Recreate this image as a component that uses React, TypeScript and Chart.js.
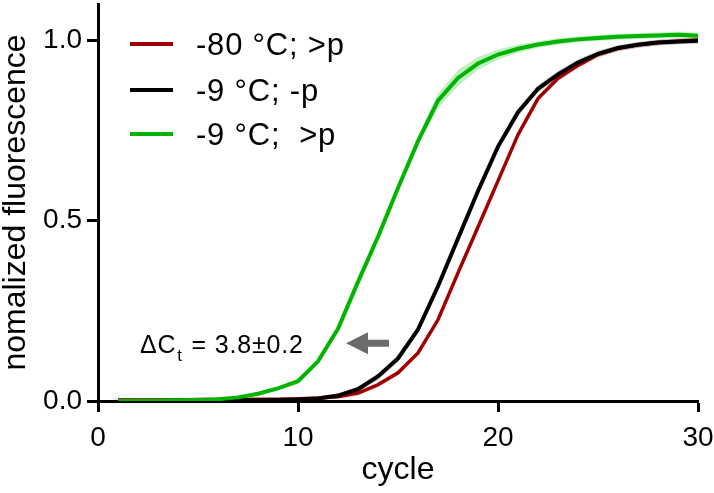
import React, { useEffect, useRef } from "react";
import { Chart, registerables } from "chart.js";

Chart.register(...registerables);

// ---- data ----
const cycles = [1, 2, 3, 4, 5, 6, 7, 8, 9, 10, 11, 12, 13, 14, 15, 16, 17, 18, 19, 20, 21, 22, 23, 24, 25, 26, 27, 28, 29, 30];

const greenMean = [0.000, 0.001, 0.001, 0.002, 0.003, 0.005, 0.010, 0.020, 0.035, 0.055, 0.110, 0.200, 0.330, 0.455, 0.590, 0.720, 0.832, 0.895, 0.935, 0.960, 0.976, 0.988, 0.996, 1.002, 1.006, 1.009, 1.011, 1.013, 1.015, 1.012];
const greenSd = [0.002, 0.002, 0.002, 0.002, 0.002, 0.002, 0.002, 0.002, 0.002, 0.003, 0.003, 0.003, 0.004, 0.004, 0.006, 0.012, 0.020, 0.022, 0.018, 0.014, 0.011, 0.009, 0.009, 0.008, 0.008, 0.008, 0.008, 0.008, 0.008, 0.008];

const blackMean = [0.001, 0.001, 0.001, 0.001, 0.002, 0.002, 0.002, 0.002, 0.003, 0.004, 0.007, 0.015, 0.033, 0.068, 0.118, 0.198, 0.318, 0.450, 0.582, 0.705, 0.800, 0.865, 0.905, 0.938, 0.962, 0.978, 0.987, 0.993, 0.996, 0.998];
const blackSd = [0.002, 0.002, 0.002, 0.002, 0.002, 0.002, 0.002, 0.002, 0.002, 0.003, 0.004, 0.006, 0.008, 0.009, 0.010, 0.010, 0.010, 0.010, 0.010, 0.010, 0.010, 0.010, 0.010, 0.009, 0.009, 0.008, 0.008, 0.008, 0.008, 0.008];

const redMean = [0.003, 0.003, 0.003, 0.003, 0.004, 0.004, 0.004, 0.005, 0.005, 0.006, 0.008, 0.012, 0.022, 0.045, 0.078, 0.133, 0.225, 0.355, 0.482, 0.610, 0.738, 0.838, 0.894, 0.930, 0.960, 0.977, 0.987, 0.993, 0.997, 1.000];
const redSd = [0.003, 0.003, 0.003, 0.003, 0.003, 0.003, 0.003, 0.003, 0.003, 0.004, 0.005, 0.006, 0.007, 0.007, 0.007, 0.007, 0.007, 0.007, 0.007, 0.007, 0.007, 0.007, 0.008, 0.008, 0.008, 0.008, 0.008, 0.008, 0.008, 0.008];

const legendLabels = ["-80 °C; >p", "-9 °C; -p", "-9 °C;  >p"];
const xTickValues = [0, 10, 20, 30];
const yTickValues = [0, 0.5, 1.0];
const annotationMain = "ΔC";
const annotationSub = "t";
const annotationRest = " = 3.8±0.2";

// ---- styles ----
const RED = "#a00000";
const BLACK = "#000000";
const GREEN = "#00b400";
const FONT = '"Liberation Sans", Arial, Helvetica, sans-serif';

const pts = (arr: number[]) => cycles.map((c, i) => ({ x: c, y: arr[i] }));
const ptsOff = (arr: number[], sd: number[], sign: number) =>
  cycles.map((c, i) => ({ x: c, y: arr[i] + sign * sd[i] }));

const overlayPlugin = {
  id: "overlay",
  afterDraw(chart: any) {
    const ctx = chart.ctx as CanvasRenderingContext2D;
    const area = chart.chartArea;
    const xs = chart.scales.x;
    const ys = chart.scales.y;
    ctx.save();
    // legend
    const colors = [RED, BLACK, GREEN];
    const rowY = [44, 90, 134];
    legendLabels.forEach((lab, i) => {
      const ly = rowY[i];
      ctx.strokeStyle = colors[i];
      ctx.lineWidth = 4;
      ctx.beginPath();
      ctx.moveTo(area.left + 32, ly);
      ctx.lineTo(area.left + 75, ly);
      ctx.stroke();
      ctx.fillStyle = "#000";
      ctx.font = `31px ${FONT}`;
      (ctx as any).letterSpacing = "0.8px";
      ctx.textBaseline = "middle";
      ctx.textAlign = "left";
      ctx.fillText(lab, area.left + 98, ly + 2);
      (ctx as any).letterSpacing = "0px";
    });

    // annotation text
    const tx = xs.getPixelForValue(2.1);
    const baseY = ys.getPixelForValue(0.132);
    ctx.fillStyle = "#000";
    ctx.textBaseline = "alphabetic";
    ctx.textAlign = "left";
    ctx.font = `25px ${FONT}`;
    (ctx as any).letterSpacing = "0.8px";
    ctx.fillText(annotationMain, tx, baseY);
    const w = ctx.measureText(annotationMain).width;
    ctx.font = `17px ${FONT}`;
    ctx.fillText(annotationSub, tx + w + 1, baseY + 8);
    const w2 = ctx.measureText(annotationSub).width;
    ctx.font = `25px ${FONT}`;
    ctx.fillText(annotationRest, tx + w + w2 + 2, baseY);
    (ctx as any).letterSpacing = "0px";

    // arrow
    const tipX = xs.getPixelForValue(12.4);
    const headX = xs.getPixelForValue(13.5);
    const tailX = xs.getPixelForValue(14.55);
    const ay = ys.getPixelForValue(0.16);
    ctx.fillStyle = "#6b6b6b";
    ctx.beginPath();
    ctx.moveTo(tipX, ay);
    ctx.lineTo(headX, ay - 11);
    ctx.lineTo(headX, ay + 11);
    ctx.closePath();
    ctx.fill();
    ctx.fillRect(headX - 1, ay - 3.5, tailX - headX + 1, 7);
    ctx.restore();
  },
};

export default function App() {
  const ref = useRef<HTMLCanvasElement | null>(null);

  useEffect(() => {
    if (!ref.current) return;
    const bandCfg = (data: any, color: string, fill: any) => ({
      data,
      borderWidth: 0,
      borderColor: "rgba(0,0,0,0)",
      backgroundColor: color,
      pointRadius: 0,
      fill,
      tension: 0,
    });
    const chart = new Chart(ref.current, {
      type: "line",
      data: {
        datasets: [
          { label: legendLabels[2], data: pts(greenMean), borderColor: GREEN, borderWidth: 4, pointRadius: 0, fill: false, tension: 0 },
          { label: legendLabels[1], data: pts(blackMean), borderColor: BLACK, borderWidth: 4, pointRadius: 0, fill: false, tension: 0 },
          { label: legendLabels[0], data: pts(redMean), borderColor: RED, borderWidth: 3.5, pointRadius: 0, fill: false, tension: 0 },
          bandCfg(ptsOff(greenMean, greenSd, 1), "rgba(0,190,0,0.25)", false),
          bandCfg(ptsOff(greenMean, greenSd, -1), "rgba(0,190,0,0.25)", "-1"),
          bandCfg(ptsOff(blackMean, blackSd, 1), "rgba(0,0,0,0.16)", false),
          bandCfg(ptsOff(blackMean, blackSd, -1), "rgba(0,0,0,0.16)", "-1"),
          bandCfg(ptsOff(redMean, redSd, 1), "rgba(160,0,0,0.2)", false),
          bandCfg(ptsOff(redMean, redSd, -1), "rgba(160,0,0,0.2)", "-1"),
        ] as any,
      },
      options: {
        animation: false,
        responsive: false,
        maintainAspectRatio: false,
        layout: { padding: { left: 0, right: 16, top: 4, bottom: 0 } },
        plugins: { legend: { display: false }, tooltip: { enabled: false } },
        scales: {
          x: {
            type: "linear",
            min: 0,
            max: 30,
            afterFit: (s: any) => { s.height = 92; s.paddingLeft = 0; s.paddingRight = 0; },
            afterBuildTicks: (s: any) => { s.ticks = xTickValues.map((v) => ({ value: v })); },
            grid: { display: true, drawOnChartArea: false, drawTicks: true, tickLength: 11, tickWidth: 3, tickColor: "#000" },
            border: { display: true, color: "#000", width: 3 },
            ticks: { color: "#000", font: { family: FONT, size: 28, lineHeight: 1 }, padding: 12, maxRotation: 0 },
            title: { display: true, text: "cycle", color: "#000", font: { family: FONT, size: 32, lineHeight: 1 }, padding: { top: 0, bottom: 7 } },
          },
          y: {
            type: "linear",
            min: 0,
            max: 1.1,
            afterFit: (s: any) => { s.width = 98; s.paddingTop = 0; s.paddingBottom = 0; },
            afterBuildTicks: (s: any) => { s.ticks = yTickValues.map((v) => ({ value: v })); },
            grid: { display: true, drawOnChartArea: false, drawTicks: true, tickLength: 11, tickWidth: 3, tickColor: "#000" },
            border: { display: true, color: "#000", width: 3 },
            ticks: { color: "#000", font: { family: FONT, size: 28, lineHeight: 1 }, padding: 5, callback: (v: any) => Number(v).toFixed(1) },
            title: { display: true, text: "nomalized fluorescence", color: "#000", font: { family: FONT, size: 32, lineHeight: 1 }, padding: { top: 0, bottom: 0 } },
          },
        },
      } as any,
      plugins: [overlayPlugin],
    });
    return () => chart.destroy();
  }, []);

  return (
    <div style={{ position: "absolute", left: 0, top: 0, width: 714, height: 493, background: "#fff" }}>
      <canvas ref={ref} width={714} height={493} style={{ display: "block", width: 714, height: 493 }} />
    </div>
  );
}
